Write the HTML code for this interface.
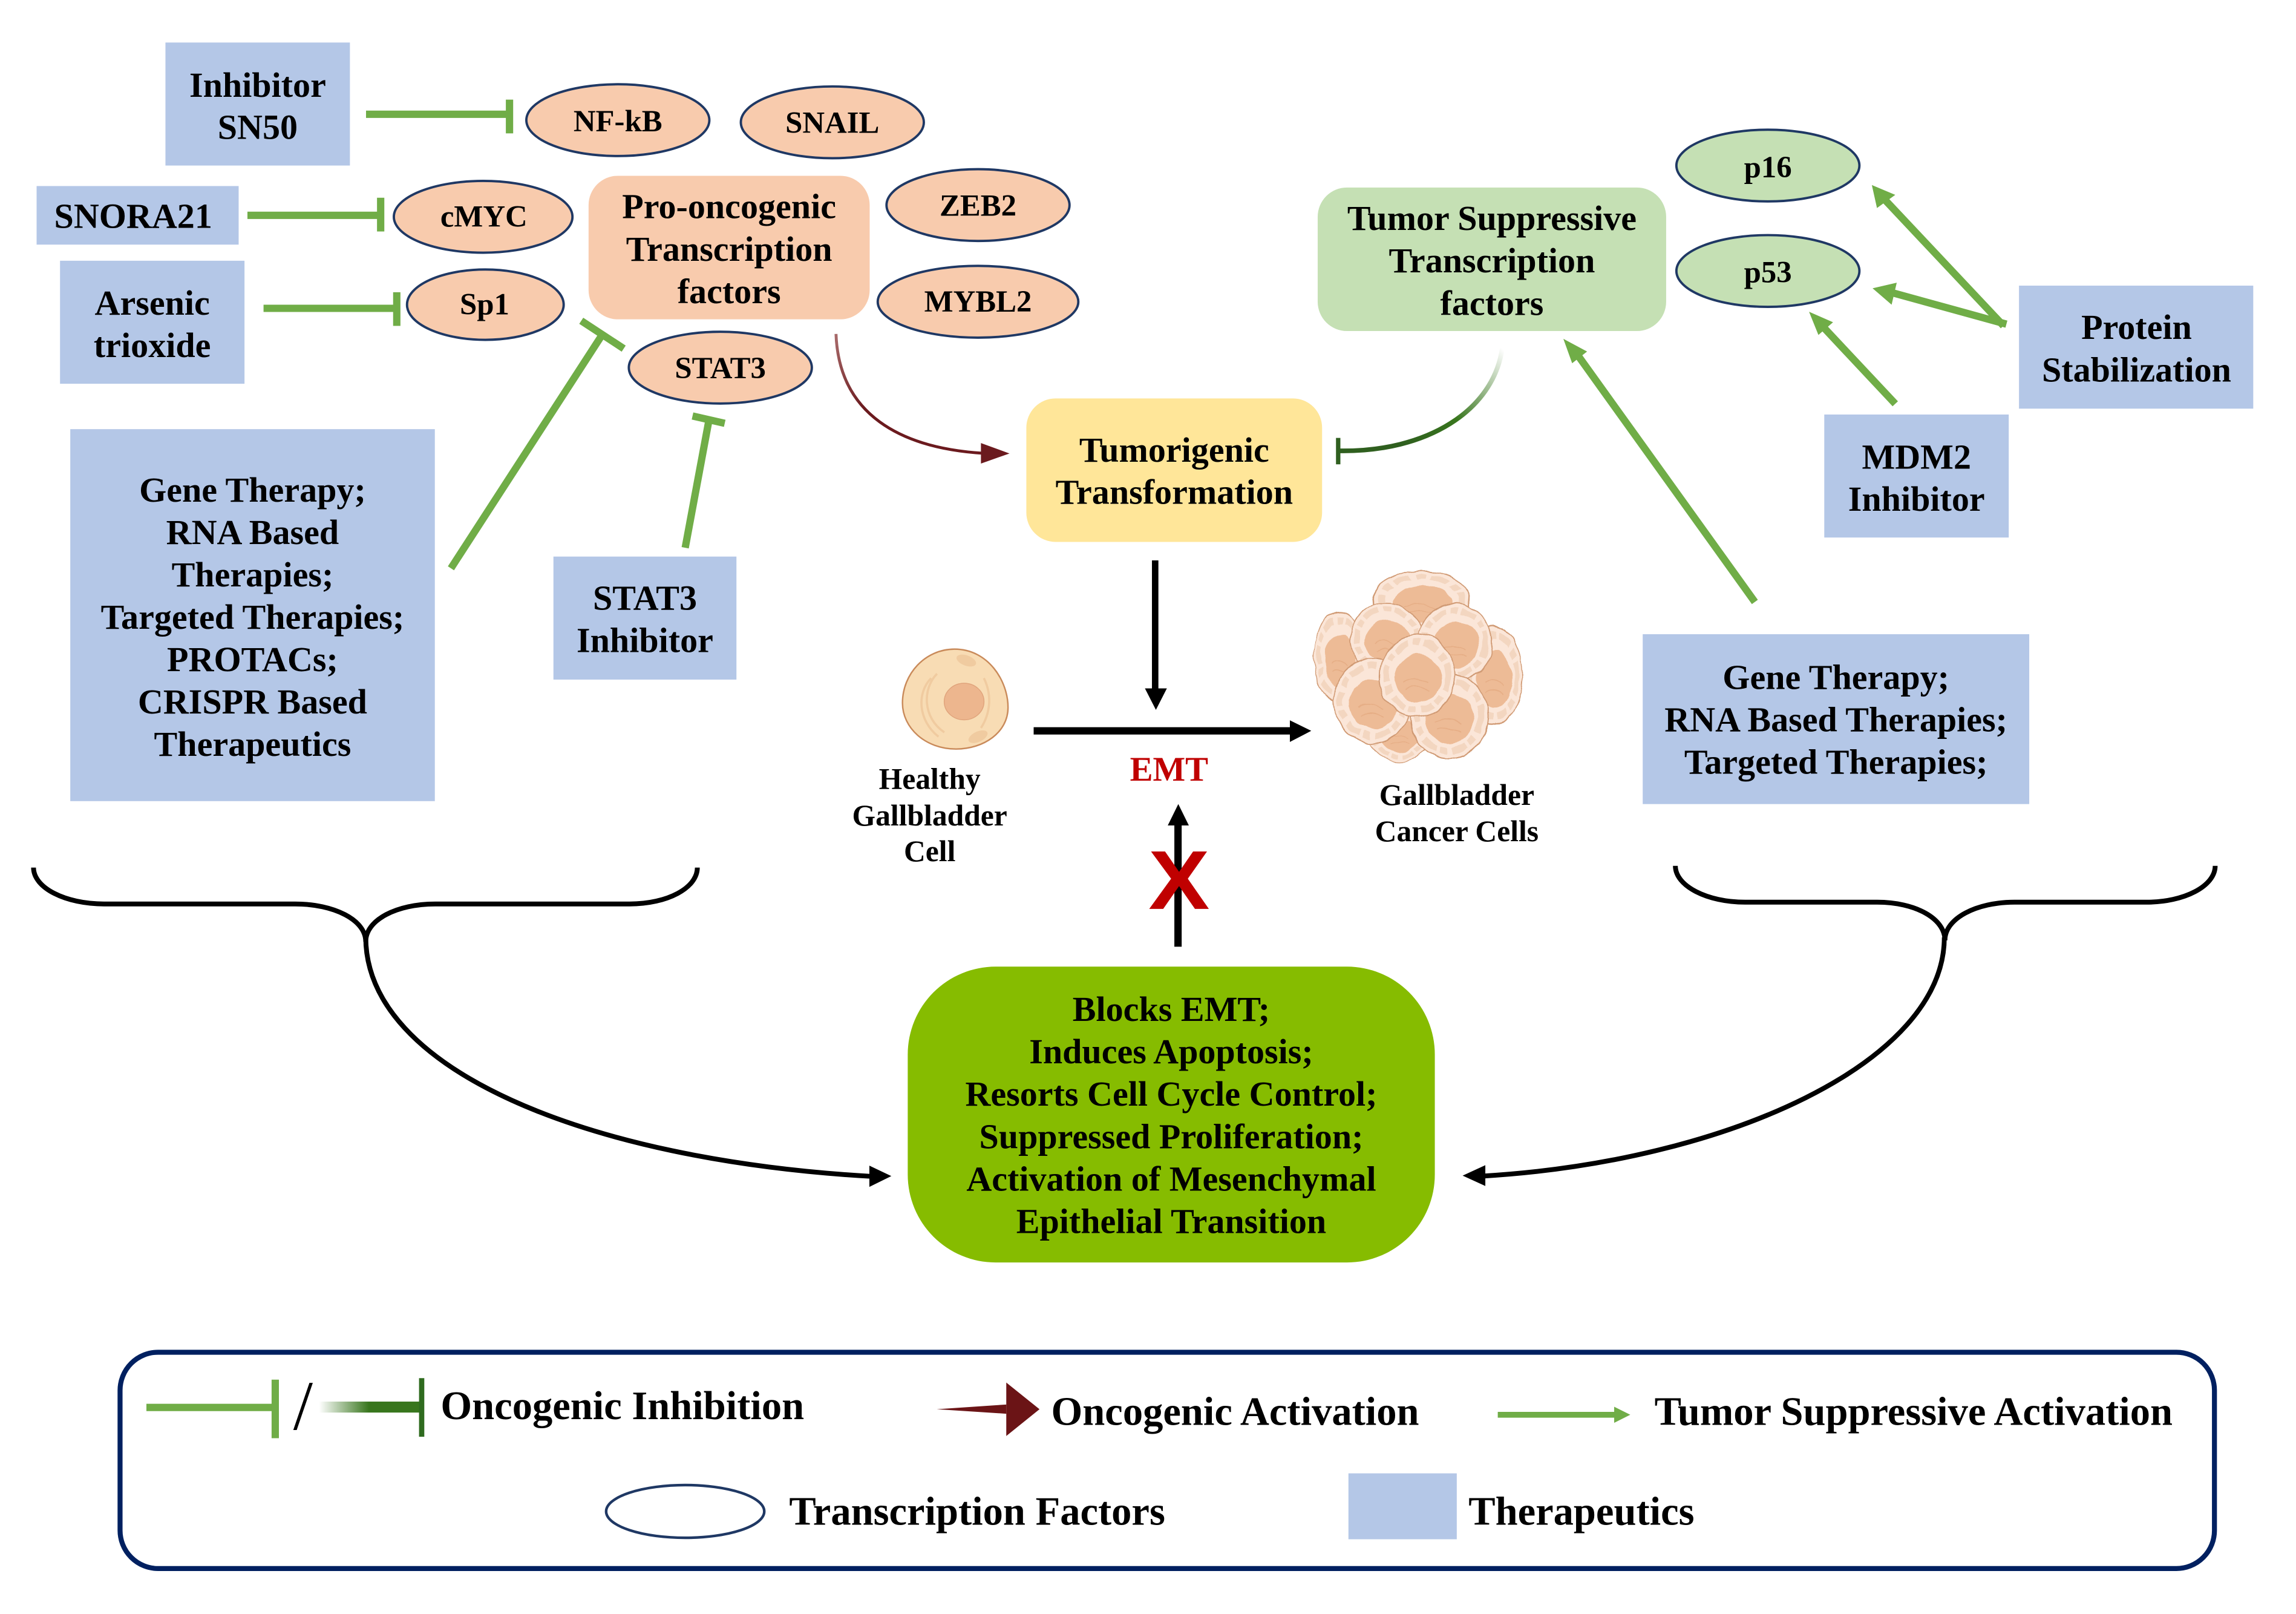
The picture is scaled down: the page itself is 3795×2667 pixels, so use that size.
<!DOCTYPE html>
<html>
<head>
<meta charset="utf-8">
<style>
html,body{margin:0;padding:0;background:#fff}
svg{display:block}
text{font-family:"Liberation Serif",serif;font-weight:bold;fill:#000;text-anchor:middle}
.t{font-size:24px}
.o{font-size:21px}
.c{font-size:20.5px}
.l{font-size:27.5px;text-anchor:start}
.b{fill:#B4C7E7}
.e{fill:#F8CBAD;stroke:#1F3864;stroke-width:1.6}
.g{fill:#C5E0B4;stroke:#1F3864;stroke-width:1.6}
.s{stroke:#70AD47;stroke-width:5;fill:none}
.a{fill:#70AD47}
.k{stroke:#000;fill:none}
</style>
</head>
<body>
<svg xmlns="http://www.w3.org/2000/svg" width="3795" height="2667" viewBox="0 0 1568.2 1102">
<defs>
<linearGradient id="rg" gradientUnits="userSpaceOnUse" x1="571" y1="228" x2="660" y2="310">
<stop offset="0" stop-color="#a86a6a"/><stop offset=".4" stop-color="#6B1A1E"/><stop offset="1" stop-color="#6B1A1E"/>
</linearGradient>
<linearGradient id="dg" gradientUnits="userSpaceOnUse" x1="1026" y1="238" x2="960" y2="305">
<stop offset="0" stop-color="#fff"/><stop offset=".6" stop-color="#38761D"/><stop offset="1" stop-color="#2F5F1F"/>
</linearGradient>
<linearGradient id="dl" gradientUnits="userSpaceOnUse" x1="218" y1="0" x2="252" y2="0">
<stop offset="0" stop-color="#fff"/><stop offset="1" stop-color="#38761D"/>
</linearGradient>
<filter id="bump" x="-10%" y="-10%" width="120%" height="120%" color-interpolation-filters="sRGB">
<feTurbulence type="fractalNoise" baseFrequency="0.08" numOctaves="2" seed="7" result="n"/>
<feDisplacementMap in="SourceGraphic" in2="n" scale="4" xChannelSelector="R" yChannelSelector="G"/>
</filter>
<g id="cell">
<ellipse cx="0" cy="0" rx="1.03" ry="1.03" fill="#FBE6D8" stroke="#D09A74" stroke-width=".03"/>
<ellipse cx="0" cy="0" rx=".85" ry=".85" fill="none" stroke="#F3D6C0" stroke-width=".16" stroke-dasharray=".4 .14 .2 .1"/>
<ellipse cx=".02" cy=".07" rx=".64" ry=".6" fill="#EDBB96"/>
<path d="M-.35,.15C-.2,.05 .1,.05 .3,.2M-.3,.35C-.1,.25 .15,.3 .32,.38" fill="none" stroke="#E6AE86" stroke-width=".025"/>
</g>
</defs>

<rect width="1568.2" height="1102" fill="#fff"/>

<!-- left therapeutics -->
<rect class="b" x="113" y="29" width="126" height="84"/>
<rect class="b" x="25" y="127" width="138" height="40"/>
<rect class="b" x="41" y="178" width="126" height="84"/>
<rect class="b" x="48" y="293" width="249" height="254"/>
<rect class="b" x="378" y="380" width="125" height="84"/>
<!-- right therapeutics -->
<rect class="b" x="1379" y="195" width="160" height="84"/>
<rect class="b" x="1246" y="283" width="126" height="84"/>
<rect class="b" x="1122" y="433" width="264" height="116"/>

<!-- main boxes -->
<rect x="402" y="120" width="192" height="98" rx="20" fill="#F8CBAD"/>
<rect x="900" y="128" width="238" height="98" rx="20" fill="#C5E0B4"/>
<rect x="701" y="272" width="202" height="98" rx="20" fill="#FFE699"/>
<rect x="620" y="660" width="360" height="202" rx="60" fill="#86BC00"/>

<!-- ellipses -->
<ellipse class="e" cx="422" cy="82" rx="62.5" ry="24.5"/>
<ellipse class="e" cx="568.5" cy="83.5" rx="62.5" ry="24.5"/>
<ellipse class="e" cx="330" cy="148" rx="61" ry="24.5"/>
<ellipse class="e" cx="331.5" cy="208" rx="53.5" ry="24"/>
<ellipse class="e" cx="668" cy="140" rx="62.5" ry="24.5"/>
<ellipse class="e" cx="668" cy="206" rx="68.5" ry="24.5"/>
<ellipse class="e" cx="492" cy="251" rx="62.5" ry="24.5"/>
<ellipse class="g" cx="1207.5" cy="113" rx="62.5" ry="24.5"/>
<ellipse class="g" cx="1207.5" cy="185" rx="62.5" ry="24.5"/>

<!-- inhibition T connectors -->
<path class="s" d="M250,78H348"/><path class="s" d="M348,68V91"/>
<path class="s" d="M169,147H260"/><path class="s" d="M260,135V158"/>
<path class="s" d="M180,210.5H271"/><path class="s" d="M271,199.5V222.5"/>
<path class="s" d="M308,388L411,229"/><path class="s" d="M397,219L426,238"/>
<path class="s" d="M468,374L484,288"/><path class="s" d="M473,284L495,289"/>

<!-- activation arrows (green) -->
<path class="s" d="M1368.4,222.4L1288,137"/><polygon class="a" points="1278.5,126.3 1282,142 1294.5,133"/>
<path class="s" d="M1370.4,221.3L1293,200"/><polygon class="a" points="1279,196.8 1292,208 1295.5,193"/>
<path class="s" d="M1294.5,275.7L1246,224"/><polygon class="a" points="1235.6,212.8 1242,228.7 1252,220"/>
<path class="s" d="M1198.6,411L1078,243"/><polygon class="a" points="1067.8,231.3 1073.8,248 1084,240"/>

<!-- oncogenic activation curve -->
<path d="M571,228C573,283 615,306 672,309.5" fill="none" stroke="url(#rg)" stroke-width="2"/>
<polygon points="670,302.5 689.5,309.6 670,316.5" fill="#6B1A1E"/>

<!-- suppressive curve -->
<path d="M1026,238C1020,280 975,309 914,307.8" fill="none" stroke="url(#dg)" stroke-width="3.2"/>
<path d="M914,299V317" stroke="#2F5F1F" stroke-width="3" fill="none"/>

<!-- black arrows -->
<path class="k" stroke-width="4.4" d="M789,382.6V472"/>
<polygon points="782,470 797,470 789.5,484.7"/>
<path class="k" stroke-width="5" d="M706,499H882"/>
<polygon points="881,491.8 895.6,499 881,506.6"/>
<path class="k" stroke-width="5" d="M804.6,646.4V562"/>
<polygon points="797.6,563.6 812,563.6 804.8,549"/>
<text x="0" y="0" transform="translate(805.3,620.6) scale(1.1,1)" style="font-family:'Liberation Sans',sans-serif;font-size:57px;fill:#C00000">X</text>
<text class="t" x="798.5" y="533" style="fill:#C00000;font-size:23.5px">EMT</text>

<!-- healthy cell -->
<path d="M652,443.2C675,443.2 688.5,465 688.5,483C688.5,500 672,511.4 653,511.4C632,511.4 616.4,497 616.4,480C616.4,460 632,443.2 652,443.2Z" fill="#F8DCB4" stroke="#C98A5A" stroke-width="1"/>
<g fill="none" stroke="#F0CBA0" stroke-width="1.5">
<path d="M640,460C630,470 630,490 645,500"/>
<path d="M636,463C626,473 627,492 641,503"/>
<path d="M672,463C678,475 676,488 670,497"/>
</g>
<ellipse cx="660" cy="451" rx="7" ry="3.5" fill="#F0CBA0" transform="rotate(20 660 451)"/>
<ellipse cx="668" cy="503" rx="7" ry="3.5" fill="#F0CBA0" transform="rotate(-25 668 503)"/>
<ellipse cx="658.5" cy="479" rx="13.6" ry="12.5" fill="#EDB68E" stroke="#E0A47C" stroke-width=".6"/>

<!-- cancer cluster -->
<g filter="url(#bump)">
<ellipse cx="968" cy="458" rx="46" ry="42" fill="#F1D2BA"/>
<use href="#cell" transform="translate(971,411) scale(32,21)"/>
<use href="#cell" transform="translate(915,449) scale(17,30)"/>
<use href="#cell" transform="translate(1020.6,461.4) scale(18.6,33)"/>
<use href="#cell" transform="translate(956,501.3) scale(21,18)"/>
<use href="#cell" transform="translate(947,436) scale(24,23.4)"/>
<use href="#cell" transform="translate(993.7,438.7) scale(24.8,26)"/>
<use href="#cell" transform="translate(989.6,489) scale(26,28)"/>
<use href="#cell" transform="translate(937.3,478.6) scale(25.5,28.2)"/>
<use href="#cell" transform="translate(968,461.4) scale(25,27.5)"/>
</g>

<!-- braces -->
<path class="k" stroke-width="3.3" d="M22.9,592.4C22.9,606.2 44.6,617.2 71,617.2L201.6,617.2C228,617.2 249.8,628 249.8,643"/>
<path class="k" stroke-width="3.3" d="M249.8,643C249.8,628 271,617.2 297.3,617.2L430,617.2C456,617.2 476.3,606.2 476.3,592.4"/>
<path class="k" stroke-width="3.3" d="M249.8,640C250,730 400,792 595,803.2"/>
<polygon points="593.8,795.9 608.8,803 593.8,810.4"/>
<path class="k" stroke-width="3.3" d="M1144.3,591.2C1144.3,605 1166,616 1192,616L1282.1,616C1308,616 1328.4,627 1328.4,642"/>
<path class="k" stroke-width="3.3" d="M1328.4,642C1328.4,627 1350,616 1375.8,616L1465.9,616C1492,616 1513,605 1513,591.2"/>
<path class="k" stroke-width="3.3" d="M1328,640C1328,725 1180,793 1013,803"/>
<polygon points="1014.5,795.6 999,802.7 1014.5,809.8"/>

<!-- labels -->
<text class="t" x="176" y="66">Inhibitor</text>
<text class="t" x="176" y="94.8">SN50</text>
<text class="t" x="91" y="155.5">SNORA21</text>
<text class="t" x="104" y="214.8">Arsenic</text>
<text class="t" x="104" y="243.7">trioxide</text>
<text class="t" x="172.5" y="342.5">Gene Therapy;</text>
<text class="t" x="172.5" y="371.5">RNA Based</text>
<text class="t" x="172.5" y="400.4">Therapies;</text>
<text class="t" x="172.5" y="429.3">Targeted Therapies;</text>
<text class="t" x="172.5" y="458.2">PROTACs;</text>
<text class="t" x="172.5" y="487.1">CRISPR Based</text>
<text class="t" x="172.5" y="516">Therapeutics</text>
<text class="t" x="440.5" y="416.3">STAT3</text>
<text class="t" x="440.5" y="445.2">Inhibitor</text>

<text class="o" x="422" y="89.7">NF-kB</text>
<text class="o" x="568.5" y="90.6">SNAIL</text>
<text class="o" x="330.5" y="154.8">cMYC</text>
<text class="o" x="331" y="214.6">Sp1</text>
<text class="o" x="668" y="147.3">ZEB2</text>
<text class="o" x="668" y="212.8">MYBL2</text>
<text class="o" x="492" y="258.3">STAT3</text>
<text class="o" x="1207.5" y="121">p16</text>
<text class="o" x="1207.5" y="192.8">p53</text>

<text class="t" x="498" y="149">Pro-oncogenic</text>
<text class="t" x="498" y="178">Transcription</text>
<text class="t" x="498" y="207">factors</text>

<text class="t" x="1019" y="157">Tumor Suppressive</text>
<text class="t" x="1019" y="186">Transcription</text>
<text class="t" x="1019" y="215">factors</text>

<text class="t" x="802" y="315.2">Tumorigenic</text>
<text class="t" x="802" y="344">Transformation</text>

<text class="t" x="1459.3" y="231.3">Protein</text>
<text class="t" x="1459.3" y="260.4">Stabilization</text>
<text class="t" x="1309" y="320">MDM2</text>
<text class="t" x="1309" y="348.8">Inhibitor</text>
<text class="t" x="1254" y="470.4">Gene Therapy;</text>
<text class="t" x="1254" y="499.3">RNA Based Therapies;</text>
<text class="t" x="1254" y="528.3">Targeted Therapies;</text>

<text class="c" x="635" y="538.6">Healthy</text>
<text class="c" x="635" y="563.6">Gallbladder</text>
<text class="c" x="635" y="588">Cell</text>
<text class="c" x="995" y="549.6">Gallbladder</text>
<text class="c" x="995" y="574.4">Cancer Cells</text>

<text class="t" x="800" y="697">Blocks EMT;</text>
<text class="t" x="800" y="726">Induces Apoptosis;</text>
<text class="t" x="800" y="755">Resorts Cell Cycle Control;</text>
<text class="t" x="800" y="784">Suppressed Proliferation;</text>
<text class="t" x="800" y="813">Activation of Mesenchymal</text>
<text class="t" x="800" y="842">Epithelial Transition</text>

<!-- legend -->
<rect x="82" y="923.3" width="1430.5" height="147.7" rx="26" fill="#fff" stroke="#002060" stroke-width="3.4"/>
<path class="s" d="M100,961H188"/><path class="s" d="M188,942V982"/>
<text x="207" y="976" style="font-weight:normal;font-size:48px">/</text>
<rect x="218" y="957" width="70" height="7.5" fill="url(#dl)"/>
<path d="M288,941V981" stroke="#2F6B1F" stroke-width="3.6" fill="none"/>
<text class="l" x="301" y="969">Oncogenic Inhibition</text>

<path d="M639.8,962.2L687.3,959V965.3Z" fill="#6B1416"/>
<polygon points="687.3,944 710,962.2 687.3,980.5" fill="#6B1416"/>
<text class="l" x="718" y="973">Oncogenic Activation</text>

<path d="M1023,966H1103" stroke="#70AD47" stroke-width="4" fill="none"/>
<polygon class="a" points="1102.5,960.5 1113.5,966 1102.5,971.5"/>
<text class="l" x="1130" y="973">Tumor Suppressive Activation</text>

<ellipse cx="468" cy="1032" rx="54" ry="18" fill="#fff" stroke="#1F3864" stroke-width="1.8"/>
<text class="l" x="539" y="1041">Transcription Factors</text>

<rect class="b" x="921" y="1006" width="74" height="45"/>
<text class="l" x="1003" y="1041">Therapeutics</text>
</svg>
</body>
</html>
